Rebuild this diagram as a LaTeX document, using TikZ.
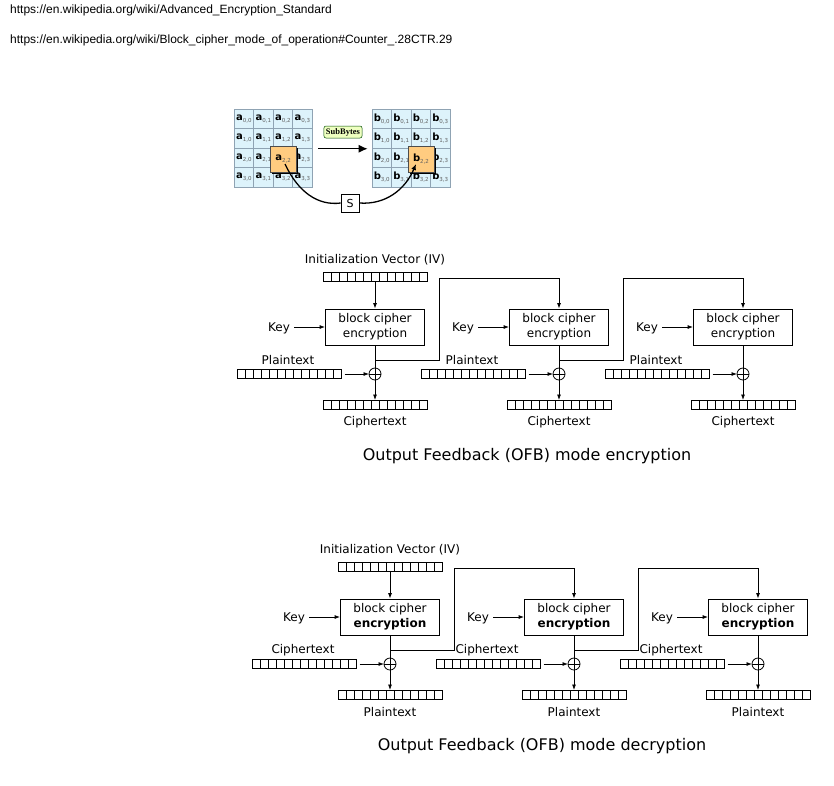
\documentclass[tikz,border=0pt]{standalone}
\usepackage{fontspec}
\setmainfont{DejaVu Sans}
\newfontfamily\urlfont{Liberation Sans}
\newfontfamily\sbfont{Liberation Serif}
\usetikzlibrary{arrows.meta,calc}
\definecolor{cellfill}{HTML}{DDF3FB}
\definecolor{cellline}{HTML}{8FA3B3}
\definecolor{hlfill}{HTML}{FFCC80}
\definecolor{sbfill}{HTML}{EEFFC0}
\definecolor{subgray}{HTML}{606060}
\newcommand{\cellt}[3]{{\fontsize{10}{10}\selectfont\bfseries #1}\raisebox{-2pt}{\fontsize{5.5}{5.5}\selectfont\color{subgray}#2,#3}}
\begin{document}
\begin{tikzpicture}[x=1pt,y=-1pt,
  every node/.style={font=\fontsize{12}{14}\selectfont},
  ln/.style={line width=0.8pt},
  arr/.style={line width=0.8pt,-{Latex[length=5.5pt,width=4pt]}},
  reg/.style={draw,line width=0.8pt,minimum width=104pt,minimum height=9pt,inner sep=0pt,outer sep=0pt,
    path picture={\foreach \i in {1,...,12}{\draw[line width=0.8pt] ([xshift=\i*8pt]path picture bounding box.south west) -- ([xshift=\i*8pt]path picture bounding box.north west);}}},
  blk/.style={draw,line width=0.8pt,minimum width=99pt,minimum height=36pt,inner sep=1pt,align=center,font=\fontsize{12}{15}\selectfont},
  xorn/.style={draw,circle,line width=0.8pt,minimum size=12pt,inner sep=0pt,outer sep=0pt},
  lbl/.style={inner sep=1pt},
  cell/.style={draw=cellline,fill=cellfill,line width=0.6pt,minimum size=19.5pt,inner sep=0pt},
  hl/.style={draw=black!70,fill=hlfill,line width=0.6pt,minimum size=26pt,inner sep=0pt},
  url/.style={anchor=west,inner sep=0pt,font=\urlfont\fontsize{12}{14}\selectfont},
  title/.style={font=\fontsize{16}{18}\selectfont}
]
\useasboundingbox (0,0) rectangle (834,785);
% URLs
\node[url] (u1) at (10,10) {https://en.wikipedia.org/wiki/Advanced\_Encryption\_Standard};
\node[url] (u2) at (10,40) {https://en.wikipedia.org/wiki/Block\_cipher\_mode\_of\_operation\#Counter\_.28CTR.29};

% AES SubBytes figure
\foreach \r in {0,...,3}{
  \foreach \c in {0,...,3}{
    \node[cell] (a\r\c) at (234+9.75+19.5*\c,109+9.75+19.5*\r) {\cellt{a}{\r}{\c}};
    \node[cell] (b\r\c) at (372+9.75+19.5*\c,109+9.75+19.5*\r) {\cellt{b}{\r}{\c}};
  }
}
\fill[black] (272,148) rectangle (298,174);
\node[hl] (ah) at (283,159) {\cellt{a}{2}{2}};
\fill[black] (410,148) rectangle (436,174);
\node[hl] (bh) at (421,159) {\cellt{b}{2}{2}};
\node[draw=black!70!green,fill=sbfill,rounded corners=2pt,line width=0.5pt,inner sep=2pt,minimum height=12pt,font=\sbfont\bfseries\fontsize{8.5}{8.5}\selectfont] (sb) at (343,132) {SubBytes};
\draw[line width=1.3pt,-{Latex[length=9pt,width=8pt]}] ($(a13.east)+(6,10.5)$) coordinate (sa) -- ($(b10.west)+(-4,10.5)$) coordinate (sbend);
\node[draw,fill=white,line width=0.6pt,minimum size=18pt,inner sep=0pt,font=\fontsize{11}{11}\selectfont] (S) at (350,203) {S};
\draw[line width=1.3pt] ([shift={(2,5)}]ah.center) .. controls (298,192) and (318,206) .. (S.west);
\draw[line width=1.3pt,-{Latex[length=6pt,width=5pt]}] (S.east) .. controls (385,205) and (405,190) .. ([shift={(-5,5)}]bh.center);

% OFB stages
\foreach \m/\dx/\dy/\inp/\outp/\enc in {e/375/0/Plaintext/Ciphertext/{encryption}, d/390/290/Ciphertext/Plaintext/{\textbf{encryption}}}{
  \foreach \k in {0,1,2}{
    \pgfmathsetmacro\cx{\dx+184*\k}
    \node[blk] (blk\m\k) at (\cx,327+\dy) {block cipher\\\enc};
    \node[lbl] (key\m\k) at (\cx-96,328+\dy) {Key};
    \draw[arr] ([xshift=3pt]key\m\k.east |- blk\m\k.west) -- (blk\m\k.west);
    \node[xorn] (x\m\k) at (\cx,374+\dy) {};
    \draw[line width=0.8pt] (x\m\k.north) -- (x\m\k.south) (x\m\k.west) -- (x\m\k.east);
    \draw[ln] (blk\m\k.south) -- (x\m\k.north);
    \node[reg] (in\m\k) at (\cx-85.5,374+\dy) {};
    \node[lbl] (inl\m\k) at (\cx-87,360+\dy) {\inp};
    \draw[arr] ([xshift=3pt]in\m\k.east) -- (x\m\k.west);
    \node[reg] (out\m\k) at (\cx,404.5+\dy) {};
    \draw[arr] (x\m\k.south) -- (out\m\k.north);
    \node[lbl] (outl\m\k) at (\cx,422+\dy) {\outp};
    \coordinate (fb\m\k) at (\cx,360+\dy);
  }
  \node[lbl] (ivl\m) at (\dx,260+\dy) {Initialization Vector (IV)};
  \node[reg] (iv\m) at (\dx,276.5+\dy) {};
  \draw[arr] (iv\m.south) -- (blk\m0.north);
  \draw[arr] (fb\m0) -- ++(64,0) -- ++(0,-82) -| (blk\m1.north);
  \draw[arr] (fb\m1) -- ++(64,0) -- ++(0,-82) -| (blk\m2.north);
}
\node[title] (te) at (527,456) {Output Feedback (OFB) mode encryption};
\node[title] (td) at (542,746) {Output Feedback (OFB) mode decryption};
\end{tikzpicture}
\end{document}
